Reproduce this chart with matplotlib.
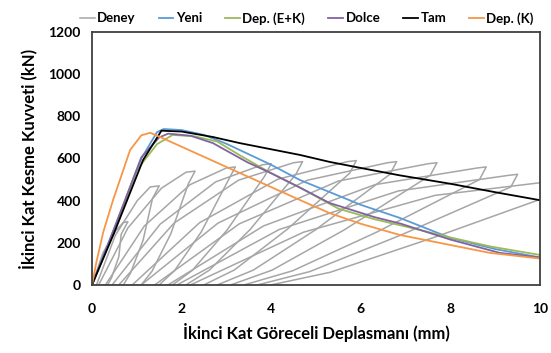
import matplotlib
matplotlib.use("Agg")
import matplotlib.pyplot as plt

plt.rcParams['font.family'] = ['Lato', 'DejaVu Sans']
plt.rcParams['font.weight'] = 'bold'

# Deney (experiment) hysteresis loops, one list of (x, y) per cycle
deney_loops = [
    [(0, 0), (0.24, 150), (0.52, 255), (0.7, 296), (0.8, 300), (0.65, 240), (0.6, 135), (0.44, 36), (0.35, 0)],
    [(0.1, 0), (0.52, 235), (1.01, 400), (1.3, 465), (1.5, 470), (1.35, 410), (1.14, 212), (0.86, 56), (0.7, 0)],
    [(0.15, 0), (0.8, 270), (1.55, 459), (2.1, 535), (2.3, 540), (2.15, 480), (1.76, 243), (1.34, 65), (1.1, 0)],
    [(0.3, 0), (1.17, 280), (2.19, 476), (3.0, 555), (3.2, 560), (3.05, 500), (2.44, 252), (1.84, 67), (1.5, 0)],
    [(0.45, 0), (1.52, 288), (2.76, 489), (3.8, 570), (4.0, 575), (3.85, 515), (3.01, 259), (2.24, 69), (1.8, 0)],
    [(0.6, 0), (1.83, 293), (3.27, 497), (4.5, 580), (4.7, 585), (4.55, 525), (3.53, 263), (2.62, 70), (2.1, 0)],
    [(0.9, 0), (2.4, 295), (4.15, 502), (5.7, 585), (5.9, 590), (5.75, 530), (4.37, 266), (3.18, 71), (2.5, 0)],
    [(1.1, 0), (2.81, 293), (4.81, 497), (6.6, 580), (6.8, 585), (6.65, 525), (5.0, 263), (3.6, 70), (2.8, 0)],
    [(1.4, 0), (3.29, 290), (5.5, 493), (7.5, 575), (7.7, 580), (7.55, 520), (5.63, 261), (4.02, 70), (3.1, 0)],
    [(1.7, 0), (3.83, 280), (6.32, 476), (8.6, 555), (8.8, 560), (8.65, 500), (6.37, 252), (4.48, 67), (3.4, 0)],
    [(1.9, 0), (4.18, 263), (6.84, 446), (9.3, 520), (9.5, 525), (9.35, 465), (6.89, 236), (4.86, 63), (3.7, 0)],
    [(2.2, 0), (4.72, 250), (7.66, 425), (10.4, 495), (10.6, 500), (10.45, 440), (7.63, 225), (5.32, 60), (4.0, 0)],
]

yeni_x = [0, 0.5, 1.1, 1.45, 1.6, 2.0, 2.5, 3.0, 3.5, 4.0, 4.64, 5.3, 6.0, 6.87, 8.0, 9.0, 10.0]
yeni_y = [0, 270, 600, 725, 740, 735, 712, 670, 620, 570, 498, 441, 380, 318, 223, 170, 130]

depek_x = [0, 0.5, 1.0, 1.45, 1.8, 2.3, 2.8, 3.3, 4.0, 4.64, 5.5, 6.3, 7.0, 8.0, 8.9, 10.0]
depek_y = [0, 260, 545, 668, 712, 705, 680, 615, 530, 462, 362, 312, 277, 225, 182, 142]

dolce_x = [0, 0.5, 1.1, 1.5, 1.7, 2.2, 2.7, 3.46, 4.0, 4.64, 5.3, 6.3, 6.9, 8.0, 9.1, 10.0]
dolce_y = [0, 270, 605, 700, 718, 708, 673, 583, 530, 462, 389, 322, 290, 215, 152, 130]

tam_x = [0, 0.5, 1.14, 1.55, 2.0, 2.7, 3.3, 4.64, 5.3, 6.0, 6.87, 8.0, 9.0, 10.0]
tam_y = [0, 250, 593, 732, 728, 702, 673, 617, 584, 555, 520, 480, 440, 402]

depk_x = [0, 0.1, 0.25, 0.47, 0.85, 1.1, 1.3, 1.52, 3.3, 4.64, 5.3, 6.0, 6.87, 7.77, 8.88, 10.0]
depk_y = [0, 110, 250, 403, 640, 710, 722, 702, 531, 403, 341, 290, 237, 199, 152, 125]

fig = plt.figure(figsize=(5.51, 3.53), dpi=100)
ax = fig.add_axes([0.167, 0.193, 0.813, 0.716])

for i, loop in enumerate(deney_loops):
    xs = [p[0] for p in loop]
    ys = [p[1] for p in loop]
    ax.plot(xs, ys, color='#A6A6A6', lw=1.1, label='Deney' if i == 0 else None)

ax.plot(yeni_x, yeni_y, color='#5B9BD5', lw=1.3, label='Yeni')
ax.plot(depek_x, depek_y, color='#9BBB59', lw=1.3, label='Dep. (E+K)')
ax.plot(dolce_x, dolce_y, color='#8064A2', lw=1.3, label='Dolce')
ax.plot(tam_x, tam_y, color='black', lw=1.3, label='Tam')
ax.plot(depk_x, depk_y, color='#F79646', lw=1.3, label='Dep. (K)')

ax.set_xlim(0, 10)
ax.set_ylim(0, 1200)
ax.set_xticks([0, 2, 4, 6, 8, 10])
ax.set_yticks(range(0, 1201, 200))
ax.tick_params(length=0, labelsize=10)
ax.tick_params(axis='x', pad=13)
ax.tick_params(axis='y', pad=8)
for s in ax.spines.values():
    s.set_color('#404040')
    s.set_linewidth(1.3)

ax.set_xlabel('İkinci Kat Göreceli Deplasmanı (mm)', fontsize=12, fontweight='bold', labelpad=6)
ax.set_ylabel('İkinci Kat Kesme Kuvveti (kN)', fontsize=12, fontweight='bold', labelpad=8)

fig.legend(loc='upper center', bbox_to_anchor=(0.557, 1.0), ncol=6, frameon=False,
           fontsize=9.5, handlelength=1.1, handletextpad=0.2, columnspacing=1.75)

fig.savefig('out.png', dpi=100)
